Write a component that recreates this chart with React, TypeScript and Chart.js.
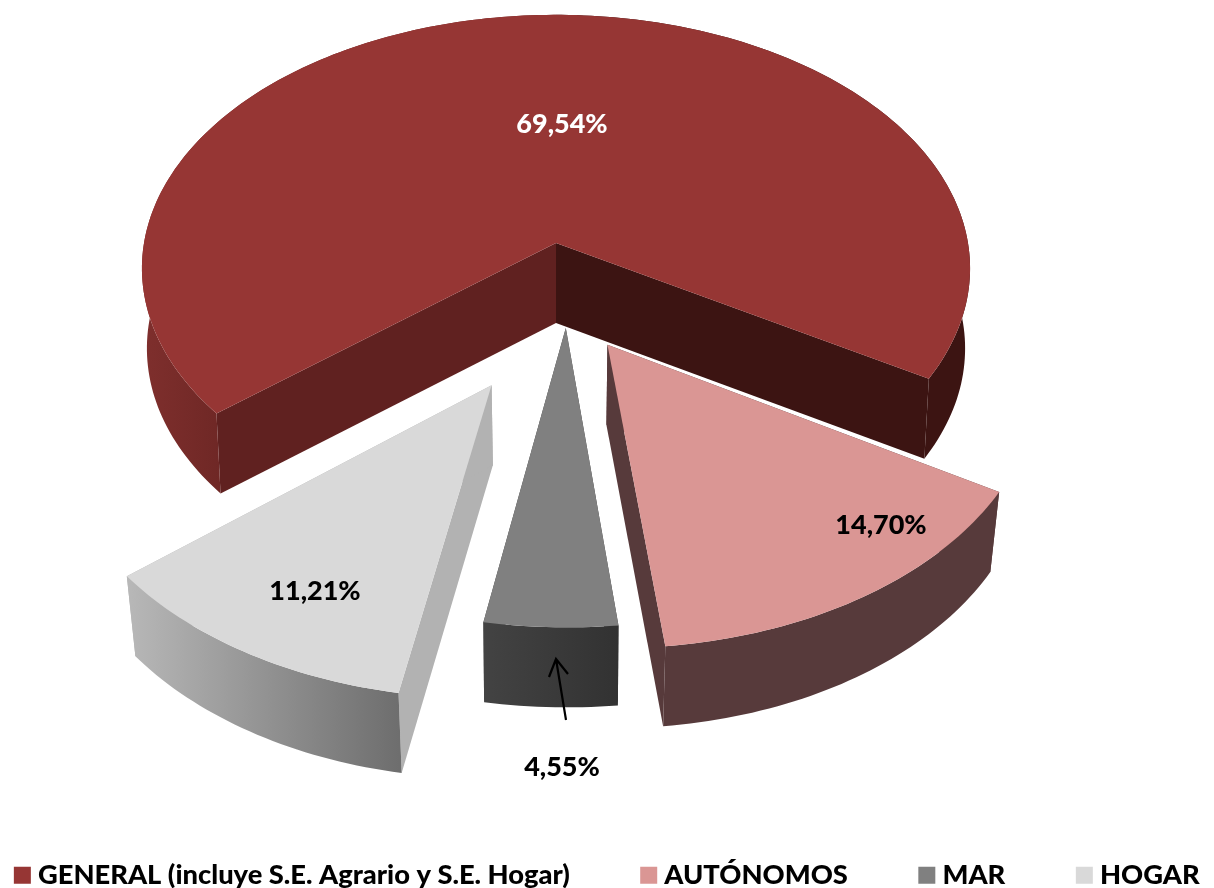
import React, { useEffect, useRef } from "react";
import { Chart, registerables } from "chart.js";

Chart.register(...registerables);

const categories = ["GENERAL (incluye S.E. Agrario y S.E. Hogar)", "AUTÓNOMOS", "MAR", "HOGAR"];
const shares = [69.54, 14.7, 4.55, 11.21];
const topColors = ["#963634", "#DA9694", "#808080", "#D9D9D9"];

// Styling of the 3D projection (not data)
const FONT = "Lato";
const VIEW = { cx: 556, cy: 243, w: 412, h: 251, k: 0.1, depth: 80 };
const shrink = [0.988, 0.98, 0.99, 0.98];
const explode: [number, number][] = [[0, 0], [0.12, 0.39], [0.023, 0.328], [-0.148, 0.536]];
const startWall = ["#602120", "#573a3b", "#3e3e3e", "#b2b2b2"];
const endWall = ["#3c1412", "#573a3b", "#3e3e3e", "#b2b2b2"];
const outerStops: [number, string][][] = [
  [[0, "#7f2f2d"], [0.1, "#6e2725"], [0.5, "#6e2725"], [0.5, "#3c1412"], [1, "#3c1412"]],
  [[0, "#573a3b"], [1, "#573a3b"]],
  [[0, "#434343"], [1, "#323232"]],
  [[0, "#b8b8b8"], [1, "#6e6e6e"]],
];
const paintOrder = [0, 3, 2, 1];
const labelSpots: [number, number, string][] = [
  [562, 124, "#ffffff"],
  [881, 525, "#000000"],
  [562, 767, "#000000"],
  [315, 591, "#000000"],
];

type P = [number, number];

function project(u: number, v: number): P {
  const s = 1 - VIEW.k * v;
  return [VIEW.cx + (VIEW.w * u) / s, VIEW.cy + (VIEW.h * v) / s];
}
function lowerer(f: number) {
  return (p: P): P => [VIEW.cx + (p[0] - VIEW.cx) * f, p[1] + VIEW.depth];
}
function fillPoly(ctx: CanvasRenderingContext2D, pts: P[], fill: string | CanvasGradient) {
  ctx.beginPath();
  pts.forEach((p, i) => (i ? ctx.lineTo(p[0], p[1]) : ctx.moveTo(p[0], p[1])));
  ctx.closePath();
  ctx.fillStyle = fill;
  ctx.fill();
}

const pie3d = {
  id: "pie3d",
  beforeDatasetDraw() {
    return false;
  },
  afterDatasetsDraw(chart: any) {
    const ctx: CanvasRenderingContext2D = chart.ctx;
    const arcs = chart.getDatasetMeta(0).data;
    ctx.save();
    paintOrder.forEach((i) => {
      const { startAngle, endAngle } = arcs[i];
      const [ox, oy] = explode[i];
      const lower = lowerer(shrink[i]);
      const apex = project(ox, oy);
      const rim: P[] = [];
      const n = Math.max(4, Math.ceil((endAngle - startAngle) / 0.02));
      for (let j = 0; j <= n; j++) {
        const t = startAngle + ((endAngle - startAngle) * j) / n;
        rim.push(project(Math.cos(t) + ox, Math.sin(t) + oy));
      }
      const first = rim[0];
      const last = rim[n];
      fillPoly(ctx, [apex, first, lower(first), lower(apex)], startWall[i]);
      fillPoly(ctx, [apex, last, lower(last), lower(apex)], endWall[i]);
      const xs = rim.map((p) => p[0]);
      const g = ctx.createLinearGradient(Math.min(...xs), 0, Math.max(...xs), 0);
      outerStops[i].forEach(([o, c]) => g.addColorStop(o, c));
      fillPoly(ctx, [...rim, ...rim.slice().reverse().map(lower)], g);
      fillPoly(ctx, [apex, ...rim], topColors[i]);
    });

    // leader line of the small slice
    ctx.strokeStyle = "#000";
    ctx.lineWidth = 2.2;
    ctx.beginPath();
    ctx.moveTo(566, 720);
    ctx.lineTo(556, 659);
    ctx.moveTo(549, 677);
    ctx.lineTo(556, 659);
    ctx.lineTo(568, 674);
    ctx.stroke();

    ctx.font = `900 27px ${FONT}`;
    ctx.textAlign = "center";
    ctx.textBaseline = "middle";
    shares.forEach((s, i) => {
      const [x, y, c] = labelSpots[i];
      ctx.fillStyle = c;
      ctx.fillText(s.toFixed(2).replace(".", ",") + "%", x, y);
    });
    ctx.restore();
  },
};

export default function App() {
  const ref = useRef<HTMLCanvasElement>(null);
  useEffect(() => {
    document.body.style.margin = "0";
    const chart = new Chart(ref.current!, {
      type: "pie",
      data: {
        labels: categories,
        datasets: [{ data: shares, backgroundColor: topColors, borderWidth: 0 }],
      },
      plugins: [pie3d],
      options: {
        responsive: false,
        animation: false,
        rotation: 230.5,
        layout: { padding: { left: -294, right: -300, top: 0, bottom: -11 } },
        plugins: {
          tooltip: { enabled: false },
          legend: {
            position: "bottom",
            align: "center",
            labels: {
              usePointStyle: true,
              pointStyle: "rect",
              boxWidth: 4,
              boxHeight: 17,
              padding: 77,
              color: "#000",
              font: { family: FONT, size: 27.3, weight: 900 },
            },
          },
        },
      },
    } as any);
    return () => chart.destroy();
  }, []);
  return <canvas ref={ref} width={1214} height={888} style={{ display: "block" }} />;
}
